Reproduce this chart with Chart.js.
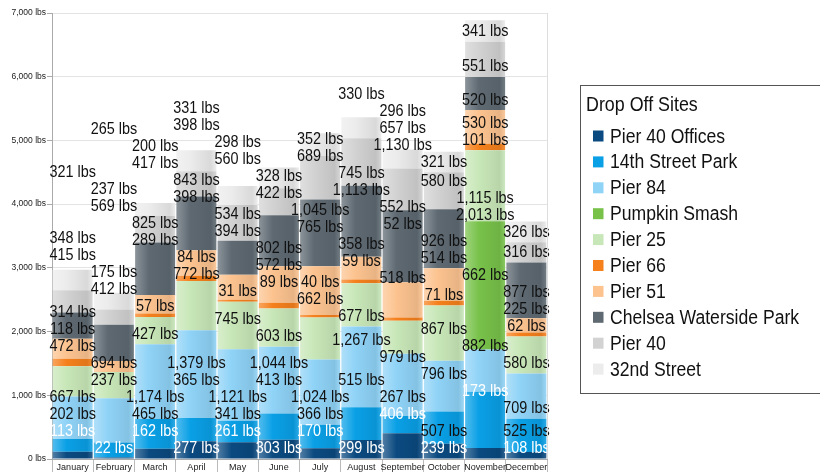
<!DOCTYPE html>
<html>
<head>
<meta charset="utf-8">
<script src="https://cdn.jsdelivr.net/npm/chart.js@4.4.1/dist/chart.umd.min.js"></script>
<style>
  html, body { margin: 0; padding: 0; background: #fff; }
  #wrap { position: relative; width: 820px; height: 475px; }
</style>
</head>
<body>
<div id="wrap"><canvas id="chart" width="820" height="475"></canvas></div>
<script>
// drop-off totals per month, one array per site (bottom of stack first)
const months = ['January', 'February', 'March', 'April', 'May', 'June', 'July',
                'August', 'September', 'October', 'November', 'December'];
const sites = ['Pier 40 Offices', '14th Street Park', 'Pier 84', 'Pumpkin Smash', 'Pier 25',
               'Pier 66', 'Pier 51', 'Chelsea Waterside Park', 'Pier 40', '32nd Street'];
const siteColors = ['#0b4a80', '#0aa0e6', '#8fd3f7', '#78c24a', '#c8e7b8',
                    '#f5801c', '#fcc38f', '#5e6972', '#d2d2d2', '#ececec'];

const pier40Offices = [113, 22, 162, 277, 261, 303, 170, 299, 406, 239, 173, 108];
const street14      = [202, 237, 465, 365, 341, 413, 366, 515, 267, 507, 882, 525];
const pier84        = [667, 694, 1174, 1379, 1121, 1044, 1024, 1267, 979, 796, 662, 709];
const pumpkinSmash  = [0, 0, 0, 0, 0, 0, 0, 0, 0, 0, 2013, 0];
const pier25        = [472, 412, 427, 772, 745, 603, 662, 677, 518, 867, 1115, 580];
const pier66        = [118, 0, 57, 84, 31, 89, 40, 59, 52, 71, 101, 62];
const pier51        = [314, 175, 289, 398, 394, 572, 765, 358, 552, 514, 530, 225];
const chelsea       = [415, 569, 825, 843, 534, 802, 1045, 1113, 1130, 926, 520, 877];
const pier40        = [348, 237, 417, 398, 560, 422, 689, 745, 657, 580, 551, 316];
const street32      = [321, 265, 200, 331, 298, 328, 352, 330, 296, 321, 341, 326];

const yMax = 7000;
const yStep = 1000;

const seriesValues = [pier40Offices, street14, pier84, pumpkinSmash, pier25,
                      pier66, pier51, chelsea, pier40, street32];

const FONT = '"Liberation Sans", Arial, sans-serif';
const fmt = v => v.toLocaleString('en-US') + ' lbs';

function mix(hex, target, t) {
    const n = parseInt(hex.slice(1), 16);
    const r = (n >> 16) & 255, g = (n >> 8) & 255, b = n & 255;
    const m = c => Math.round(c + (target - c) * t);
    return 'rgb(' + m(r) + ',' + m(g) + ',' + m(b) + ')';
}

// horizontal shading on every bar, like the 3D-ish office chart look
function shaded(base) {
    return function (c) {
        const xs = c.chart.scales.x;
        if (!xs || c.dataIndex === undefined) return base;
        const cx = xs.getPixelForValue(c.dataIndex);
        const half = xs.width / months.length / 2;
        if (!isFinite(cx) || !isFinite(half) || half <= 0) return base;
        const g = c.chart.ctx.createLinearGradient(cx - half, 0, cx + half, 0);
        g.addColorStop(0, mix(base, 255, 0.30));
        g.addColorStop(0.35, base);
        g.addColorStop(0.85, mix(base, 0, 0.08));
        g.addColorStop(1, mix(base, 255, 0.15));
        return g;
    };
}

// value labels: start just above each segment's base, then push up past
// labels already placed in this bar or the bar to the right
const segLabels = {
    id: 'segLabels',
    afterDatasetsDraw(chart) {
        const ctx = chart.ctx;
        const sx = 0.9, h = 17;
        ctx.save();
        ctx.font = '16px ' + FONT;
        ctx.textAlign = 'center';
        ctx.textBaseline = 'middle';
        const placed = [];
        for (let i = months.length - 1; i >= 0; i--) {
            let prevY = Infinity;
            chart.data.datasets.forEach((ds, di) => {
                const v = ds.data[i];
                if (!v) return;
                const bar = chart.getDatasetMeta(di).data[i];
                const text = fmt(v);
                const w = ctx.measureText(text).width * sx;
                let y = Math.min(bar.base - 10, prevY - h);
                let moved = true;
                while (moved) {
                    moved = false;
                    for (const p of placed) {
                        if (Math.abs(p.x - bar.x) < (p.w + w) / 2 && Math.abs(p.y - y) < h) {
                            y = p.y - h;
                            moved = true;
                        }
                    }
                }
                placed.push({ x: bar.x, y, w });
                prevY = y;
                ctx.save();
                ctx.translate(bar.x, y);
                ctx.scale(sx, 1);
                ctx.fillStyle = di === 0 ? '#ffffff' : '#111111';
                ctx.fillText(text, 0, 0);
                ctx.restore();
            });
        }
        ctx.restore();
    }
};

const frameAndLegend = {
    id: 'frameAndLegend',
    afterDraw(chart) {
        const ctx = chart.ctx;
        const a = chart.chartArea;
        ctx.save();
        ctx.strokeStyle = '#dddddd';
        ctx.lineWidth = 1;
        ctx.beginPath();
        ctx.moveTo(a.right + 0.5, a.top);
        ctx.lineTo(a.right + 0.5, a.bottom);
        ctx.stroke();

        // legend box
        ctx.strokeStyle = '#555555';
        ctx.strokeRect(580.5, 85.5, 260, 308);
        ctx.fillStyle = '#111111';
        ctx.textBaseline = 'middle';
        ctx.textAlign = 'left';
        ctx.font = '21px ' + FONT;
        ctx.save();
        ctx.translate(586, 105);
        ctx.scale(0.85, 1);
        ctx.fillText('Drop Off Sites', 0, 0);
        ctx.restore();
        ctx.font = '20px ' + FONT;
        chart.data.datasets.forEach((ds, i) => {
            const y = 136 + i * 25.9;
            ctx.fillStyle = siteColors[i];
            ctx.fillRect(593, y - 5.5, 10.5, 11);
            ctx.fillStyle = '#111111';
            ctx.save();
            ctx.translate(610, y + 1);
            ctx.scale(0.88, 1);
            ctx.fillText(ds.label, 0, 0);
            ctx.restore();
        });
        ctx.restore();
    }
};

new Chart(document.getElementById('chart'), {
    type: 'bar',
    data: {
        labels: months,
        datasets: sites.map((s, i) => ({
            label: s,
            data: seriesValues[i],
            backgroundColor: shaded(siteColors[i]),
            borderWidth: 0,
            barPercentage: 0.97,
            categoryPercentage: 1.0
        }))
    },
    options: {
        responsive: false,
        animation: false,
        layout: { padding: { left: 0, right: 273, top: 13, bottom: 0 } },
        plugins: {
            legend: { display: false },
            tooltip: { enabled: false }
        },
        scales: {
            x: {
                stacked: true,
                afterFit: s => { s.height = 16; },
                grid: { offset: true, drawOnChartArea: false, tickLength: 13, color: '#bbbbbb' },
                border: { color: '#aaaaaa' },
                ticks: { padding: -10, color: '#222', font: { family: FONT, size: 9 }, maxRotation: 0, autoSkip: false }
            },
            y: {
                stacked: true,
                min: 0,
                max: yMax,
                afterFit: s => { s.width = 52; },
                grid: { color: '#e4e4e4', tickLength: 5, tickColor: '#aaaaaa' },
                border: { color: '#aaaaaa' },
                ticks: {
                    stepSize: yStep,
                    padding: 1,
                    color: '#222',
                    font: { family: FONT, size: 8.5 },
                    callback: v => fmt(v)
                }
            }
        }
    },
    plugins: [segLabels, frameAndLegend]
});
</script>
</body>
</html>
